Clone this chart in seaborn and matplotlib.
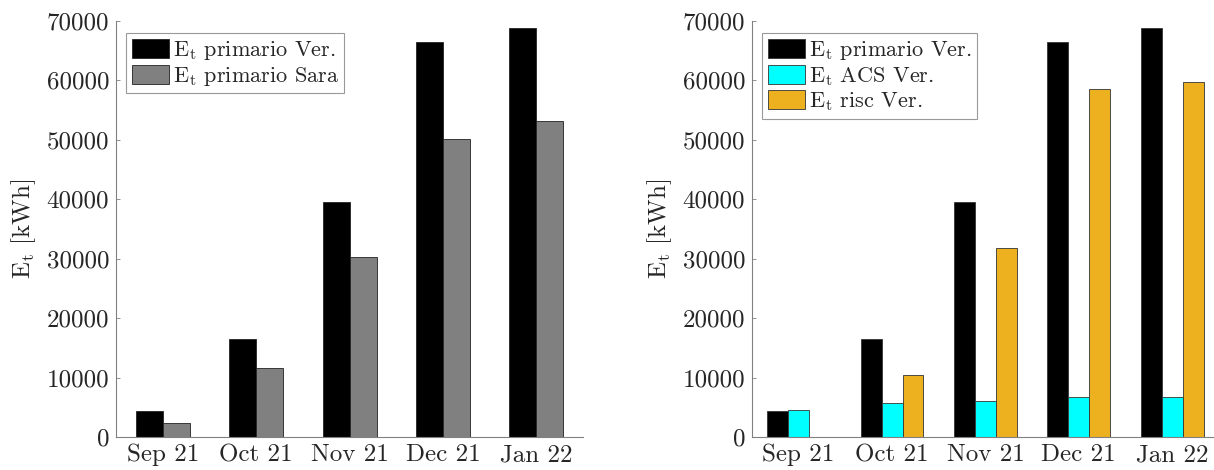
import numpy as np
import pandas as pd
import matplotlib
matplotlib.use('Agg')
import matplotlib.pyplot as plt
import seaborn as sns

# Data
months = ['Sep 21', 'Oct 21', 'Nov 21', 'Dec 21', 'Jan 22']
et_primario_ver = [4350, 16450, 39500, 66400, 68750]
et_primario_sara = [2400, 11600, 30300, 50100, 53100]
et_acs_ver = [4550, 5700, 6100, 6700, 6700]
et_risc_ver = [0, 10500, 31800, 58500, 59700]

lab_ver = r'E$_\mathrm{t}$ primario Ver.'
lab_sara = r'E$_\mathrm{t}$ primario Sara'
lab_acs = r'E$_\mathrm{t}$ ACS Ver.'
lab_risc = r'E$_\mathrm{t}$ risc Ver.'

sns.set_style('ticks')
plt.rcParams['font.family'] = ['cmr10', 'DejaVu Serif']
plt.rcParams['mathtext.fontset'] = 'cm'
plt.rcParams['axes.formatter.use_mathtext'] = True

df_left = pd.DataFrame({
    'month': months * 2,
    'value': et_primario_ver + et_primario_sara,
    'serie': [lab_ver] * 5 + [lab_sara] * 5,
})
df_right = pd.DataFrame({
    'month': months * 3,
    'value': et_primario_ver + et_acs_ver + et_risc_ver,
    'serie': [lab_ver] * 5 + [lab_acs] * 5 + [lab_risc] * 5,
})

fig = plt.figure(figsize=(12.14, 4.70), dpi=100)
ax1 = fig.add_axes([0.0956, 0.0702, 0.3847, 0.8851])
ax2 = fig.add_axes([0.6194, 0.0702, 0.3847, 0.8851])

sns.barplot(data=df_left, x='month', y='value', hue='serie', ax=ax1,
            palette=['#000000', '#808080'], width=0.578, errorbar=None,
            edgecolor='#222222', linewidth=0.6, saturation=1)
sns.barplot(data=df_right, x='month', y='value', hue='serie', ax=ax2,
            palette=['#000000', '#00FFFF', '#EDB120'], width=0.673, errorbar=None,
            edgecolor='#333333', linewidth=0.6, saturation=1)

for ax in (ax1, ax2):
    ax.set_xlim(-0.5, 4.5)
    ax.set_ylim(0, 70000)
    ax.set_yticks(np.arange(0, 70001, 10000))
    ax.set_yticklabels([f'{v:d}' for v in range(0, 70001, 10000)])
    ax.set_xlabel('')
    ax.set_ylabel(r'E$_\mathrm{t}$ [kWh]', fontsize=18, labelpad=6)
    ax.tick_params(axis='both', direction='in', length=3, width=0.6,
                   color='#808080', labelsize=18, pad=5)
    sns.despine(ax=ax)
    for s in ('left', 'bottom'):
        ax.spines[s].set_color('#808080')
        ax.spines[s].set_linewidth(0.8)
    leg = ax.legend(loc='upper left', bbox_to_anchor=(0.0214, 0.971),
                    fontsize=16, frameon=True, fancybox=False,
                    borderaxespad=0, handlelength=1.7, handleheight=0.95,
                    handletextpad=0.15, labelspacing=0.12, borderpad=0.25)
    leg.get_frame().set_edgecolor('#808080')
    leg.get_frame().set_linewidth(0.8)

fig.savefig('out.png', dpi=100)
